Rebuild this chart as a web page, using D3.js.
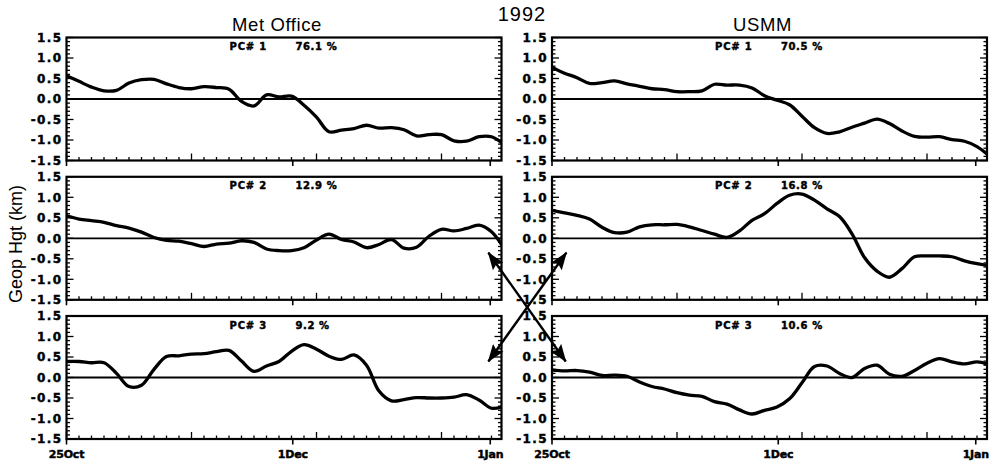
<!DOCTYPE html>
<html>
<head>
<meta charset="utf-8">
<script src="https://cdn.jsdelivr.net/npm/d3@7"></script>
<style>
  body { margin: 0; background: #fff; }
  text { fill: #000; }
</style>
</head>
<body>
<svg id="chart" width="996" height="462"></svg>
<script>
// Day offsets from 25 Oct 1992 (shared sampling grid for all series)
const days = [0, 2, 4, 6, 8, 10, 12, 14, 16, 18, 20, 22, 24, 26, 28, 30, 32, 34,
              36, 38, 40, 42, 44, 46, 48, 50, 52, 54, 56, 58, 60, 62, 64, 66, 68, 69.6];

// Met Office principal components (km)
const moPC1 = [0.57, 0.43, 0.29, 0.20, 0.21, 0.39, 0.47, 0.48, 0.37, 0.28, 0.25, 0.30,
               0.28, 0.24, -0.06, -0.17, 0.10, 0.05, 0.07, -0.15, -0.44, -0.80, -0.76, -0.72,
               -0.64, -0.71, -0.70, -0.75, -0.90, -0.87, -0.87, -1.02, -1.03, -0.92, -0.92, -1.06];
const moPC2 = [0.55, 0.47, 0.43, 0.39, 0.31, 0.25, 0.15, 0.02, -0.05, -0.07, -0.13, -0.20,
               -0.14, -0.12, -0.06, -0.10, -0.26, -0.30, -0.30, -0.23, -0.04, 0.10, -0.03, -0.09,
               -0.23, -0.15, -0.03, -0.24, -0.22, 0.05, 0.22, 0.18, 0.24, 0.32, 0.16, -0.15];
const moPC3 = [0.39, 0.39, 0.36, 0.36, 0.10, -0.22, -0.19, 0.20, 0.51, 0.53, 0.57, 0.58,
               0.63, 0.66, 0.40, 0.15, 0.28, 0.39, 0.64, 0.80, 0.69, 0.52, 0.44, 0.55,
               0.30, -0.33, -0.57, -0.54, -0.49, -0.50, -0.50, -0.48, -0.42, -0.55, -0.75, -0.72];

// USMM principal components (km)
const usPC1 = [0.77, 0.63, 0.52, 0.38, 0.40, 0.44, 0.37, 0.31, 0.25, 0.23, 0.18, 0.18,
               0.20, 0.36, 0.34, 0.34, 0.27, 0.08, -0.03, -0.14, -0.42, -0.70, -0.84, -0.80,
               -0.69, -0.59, -0.49, -0.60, -0.78, -0.91, -0.93, -0.92, -0.99, -1.03, -1.16, -1.34];
const usPC2 = [0.68, 0.62, 0.56, 0.47, 0.27, 0.14, 0.15, 0.28, 0.33, 0.33, 0.34, 0.28,
               0.19, 0.10, 0.02, 0.18, 0.44, 0.60, 0.85, 1.05, 1.08, 0.93, 0.72, 0.53,
               0.11, -0.47, -0.80, -0.95, -0.74, -0.45, -0.43, -0.43, -0.45, -0.55, -0.62, -0.66];
const usPC3 = [0.18, 0.16, 0.17, 0.13, 0.05, 0.06, 0.03, -0.11, -0.22, -0.28, -0.37, -0.43,
               -0.46, -0.59, -0.65, -0.79, -0.89, -0.80, -0.72, -0.52, -0.13, 0.27, 0.28, 0.10,
               0.00, 0.22, 0.30, 0.08, 0.03, 0.17, 0.35, 0.46, 0.38, 0.33, 0.38, 0.33];

// Explained variance (%) per component
const pcNumbers = [1, 2, 3];
const moVariance = ["76.1", "12.9", "9.2"];
const usVariance = ["70.5", "16.8", "10.6"];

// Axis labels
const yTickValues = [-1.5, -1.0, -0.5, 0.0, 0.5, 1.0, 1.5];
const yTickLabels = ["-1.5", "-1.0", "-0.5", "0.0", "0.5", "1.0", "1.5"];
const xLabelDays = [0, 36.2, 67.8];
const xLabelText = ["25Oct", "1Dec", "1Jan"];
const columnTitles = ["Met Office", "USMM"];
const yearLabel = "1992";
const yAxisTitle = "Geop Hgt (km)";

// ---- layout ----
const svg = d3.select("#chart");
svg.append("rect").attr("width", 996).attr("height", 462).attr("fill", "#fff");

const plotW = 435, plotH = 123;
const colLeft = [66.5, 552];
const rowTop = [37.5, 176.8, 316];

const x = d3.scaleLinear().domain([0, 69.6]).range([0, plotW]);
const y = d3.scaleLinear().domain([-1.5, 1.5]).range([plotH, 0]);

const columns = [
  { series: [moPC1, moPC2, moPC3], variance: moVariance },
  { series: [usPC1, usPC2, usPC3], variance: usVariance }
];

const line = d3.line()
  .x((d, i) => x(days[i]))
  .y(d => y(d))
  .curve(d3.curveCatmullRom.alpha(0.5));

const minorY = d3.range(-15, 16).map(i => i / 10);
const minorX = d3.range(0, 69, 2);
const majorX = [0, 20, 40, 60];

const tickFont = "'DejaVu Sans', sans-serif";

// heavy bold text used for tick and component labels
function heavy(sel, size, spacing) {
  return sel.attr("font-family", tickFont)
    .attr("font-weight", "bold")
    .attr("font-size", size)
    .attr("letter-spacing", spacing)
    .attr("stroke", "#000")
    .attr("stroke-width", 0.45);
}

columns.forEach((col, c) => {
  col.series.forEach((vals, r) => {
    const g = svg.append("g").attr("transform", `translate(${colLeft[c]},${rowTop[r]})`);
    const clipId = `clip-${c}-${r}`;
    g.append("clipPath").attr("id", clipId)
      .append("rect").attr("x", 0).attr("y", 0).attr("width", plotW).attr("height", plotH);

    // zero line
    g.append("line")
      .attr("x1", 0).attr("x2", plotW).attr("y1", y(0)).attr("y2", y(0))
      .attr("stroke", "#000").attr("stroke-width", 1.8);

    // component time series
    g.append("path")
      .datum(vals)
      .attr("clip-path", `url(#${clipId})`)
      .attr("d", line)
      .attr("fill", "none")
      .attr("stroke", "#000")
      .attr("stroke-width", 3.3)
      .attr("stroke-linejoin", "round")
      .attr("stroke-linecap", "round");

    // frame
    g.append("rect")
      .attr("x", 0).attr("y", 0).attr("width", plotW).attr("height", plotH)
      .attr("fill", "none").attr("stroke", "#000").attr("stroke-width", 2.2);

    // y ticks, both sides, pointing inward
    minorY.forEach(v => {
      const major = Math.abs(Math.round(v * 10) % 5) === 0;
      const len = major ? 7 : 3.5;
      g.append("line").attr("x1", 0).attr("x2", len).attr("y1", y(v)).attr("y2", y(v))
        .attr("stroke", "#000").attr("stroke-width", 1.3);
      g.append("line").attr("x1", plotW).attr("x2", plotW - len).attr("y1", y(v)).attr("y2", y(v))
        .attr("stroke", "#000").attr("stroke-width", 1.3);
    });

    // y tick labels
    heavy(g.selectAll("text.ytick")
      .data(yTickValues)
      .join("text")
      .attr("class", "ytick")
      .attr("x", -4)
      .attr("y", v => y(v))
      .attr("dy", "0.36em")
      .attr("text-anchor", "end"), 12, 1.4)
      .text((v, i) => yTickLabels[i]);

    // x ticks along the bottom, pointing up
    minorX.forEach(d => {
      const len = majorX.includes(d) ? 7 : 3.5;
      g.append("line").attr("x1", x(d)).attr("x2", x(d)).attr("y1", plotH).attr("y2", plotH - len)
        .attr("stroke", "#000").attr("stroke-width", 1.3);
    });
    // date marks below the axis
    xLabelDays.forEach(d => {
      g.append("line").attr("x1", x(d)).attr("x2", x(d)).attr("y1", plotH).attr("y2", plotH + 5.5)
        .attr("stroke", "#000").attr("stroke-width", 1.6);
    });

    // component label and explained variance
    heavy(g.append("text").attr("x", 163).attr("y", 12.5), 10, 0.8)
      .text(`PC# ${pcNumbers[r]}`);
    heavy(g.append("text").attr("x", 229).attr("y", 12.5), 10, 0.6)
      .text(`${col.variance[r]} %`);

    // date labels on the bottom row
    if (r === 2) {
      heavy(g.selectAll("text.xlab")
        .data(xLabelDays)
        .join("text")
        .attr("class", "xlab")
        .attr("x", d => x(d))
        .attr("y", plotH + 18.5)
        .attr("text-anchor", "middle"), 11, -0.2)
        .text((d, i) => xLabelText[i]);
    }
  });

  // column title
  svg.append("text")
    .attr("x", colLeft[c] + plotW / 2 - 7)
    .attr("y", 30.5)
    .attr("text-anchor", "middle")
    .attr("font-family", "'Liberation Sans', Arial, sans-serif")
    .attr("font-size", 18.5)
    .attr("letter-spacing", 0.6)
    .text(columnTitles[c]);
});

// year
svg.append("text")
  .attr("x", 522).attr("y", 20.5)
  .attr("text-anchor", "middle")
  .attr("font-family", "'Liberation Sans', Arial, sans-serif")
  .attr("font-size", 20)
  .attr("letter-spacing", 1)
  .text(yearLabel);

// y-axis title
svg.append("text")
  .attr("transform", `translate(21.5,244) rotate(-90)`)
  .attr("text-anchor", "middle")
  .attr("font-family", "'Liberation Sans', Arial, sans-serif")
  .attr("font-size", 18)
  .text(yAxisTitle);

// double-headed arrows linking swapped components between the two analyses
const defs = svg.append("defs");
defs.append("marker")
  .attr("id", "head")
  .attr("markerUnits", "userSpaceOnUse")
  .attr("viewBox", "0 0 18 13")
  .attr("markerWidth", 18).attr("markerHeight", 13)
  .attr("refX", 17).attr("refY", 6.5)
  .attr("orient", "auto-start-reverse")
  .append("path").attr("d", "M0,0 L18,6.5 L0,13 L3,6.5 Z").attr("fill", "#000");

const links = [
  { from: [0, 1, 67.5, -0.35], to: [1, 2, 2.2, 0.39] },
  { from: [1, 1, 2.3, -0.35], to: [0, 2, 67.5, 0.39] }
];
const pt = ([c, r, d, v]) => [colLeft[c] + x(d), rowTop[r] + y(v)];
links.forEach(l => {
  const a = pt(l.from), b = pt(l.to);
  svg.append("line")
    .attr("x1", a[0]).attr("y1", a[1]).attr("x2", b[0]).attr("y2", b[1])
    .attr("stroke", "#000").attr("stroke-width", 2.4)
    .attr("marker-start", "url(#head)")
    .attr("marker-end", "url(#head)");
});
</script>
</body>
</html>
